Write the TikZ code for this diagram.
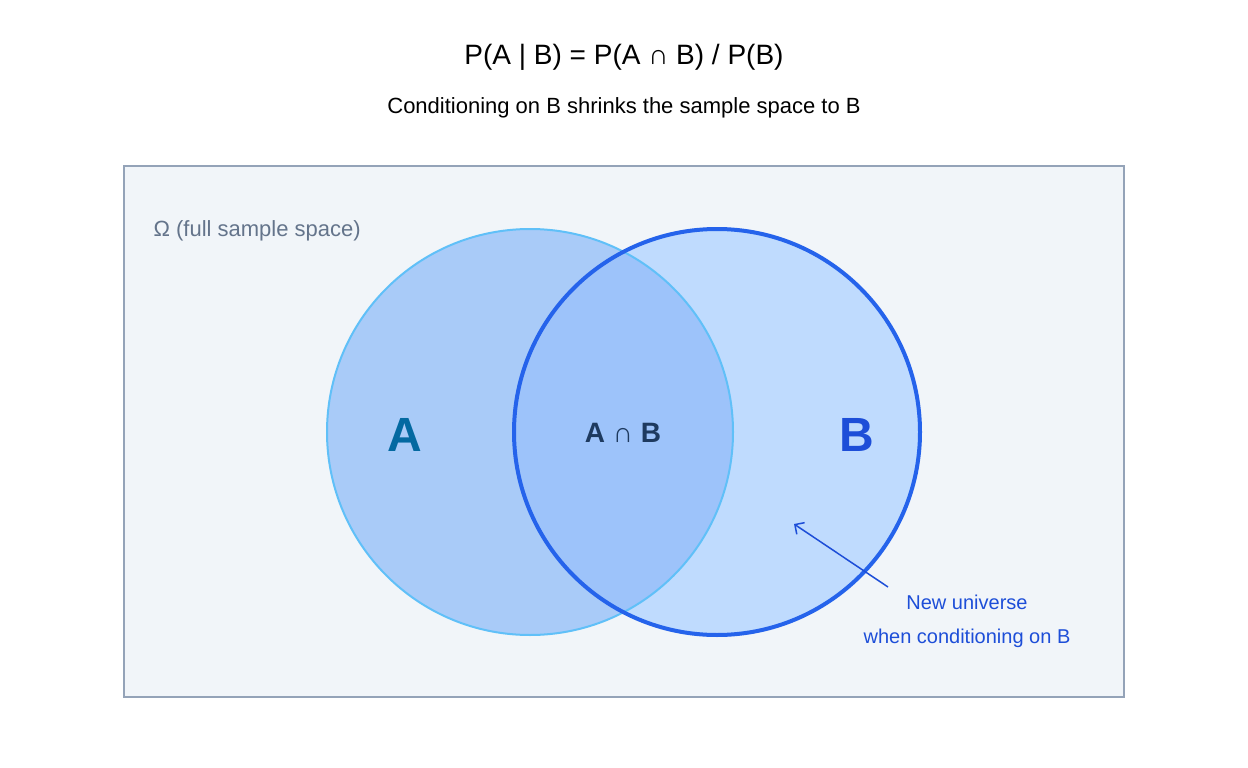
\documentclass[tikz,border=0pt]{standalone}
\usepackage{fontspec}
\setmainfont{Liberation Sans}
\usetikzlibrary{arrows.meta}
\definecolor{frameline}{HTML}{94A3B8}
\definecolor{framefill}{HTML}{F1F5F9}
\definecolor{omegagray}{HTML}{64748B}
\definecolor{afill}{HTML}{A9CBF8}
\definecolor{bfill}{HTML}{BFDBFE}
\definecolor{abfill}{HTML}{9DC3FA}
\definecolor{aline}{HTML}{60C0F8}
\definecolor{bline}{HTML}{2563EB}
\definecolor{atext}{HTML}{0369A1}
\definecolor{btext}{HTML}{1D4ED8}
\definecolor{abtext}{HTML}{1E3A5F}
\tikzset{
  setlabel/.style={font=\fontsize{48}{52}\selectfont\bfseries},
  note/.style={font=\fontsize{20}{34}\selectfont, text=btext, align=center}
}
\begin{document}
\begin{tikzpicture}[x=1pt,y=-1pt]
\useasboundingbox (0,0) rectangle (1248,768);

%titles
\node (title) at (624,57) {\fontsize{28}{32}\selectfont P(A | B) = P(A ∩ B) / P(B)};
\node (sub) at (624,108) {\fontsize{22}{26}\selectfont Conditioning on B shrinks the sample space to B};

%sample space
\draw[frameline, fill=framefill, line width=2] (124,166) rectangle (1124,697);
\node[anchor=west, text=omegagray] (omega) at (150,231) {\fontsize{22}{26}\selectfont Ω (full sample space)};

%circles
\fill[bfill] (717,432) circle (203);
\fill[afill] (530,432) circle (203);
\begin{scope}
\clip (717,432) circle (203);
\fill[abfill] (530,432) circle (203);
\end{scope}
\draw[aline, line width=2] (530,432) circle (203);
\draw[bline, line width=4] (717,432) circle (203);

%labels
\node[setlabel, text=atext] (A) at (405,435) {A};
\node[setlabel, text=btext] (B) at (857,435) {B};
\node[font=\fontsize{28}{32}\selectfont\bfseries, text=abtext] (AB) at (623,433) {A ∩ B};

%new universe
\node[note] (universe) at (967,621) {New universe\\when conditioning on B};
\coordinate (tip) at (794,524);
\draw[btext, line width=1.5, -{Straight Barb[length=7pt]}] (888,587) -- (tip);
\end{tikzpicture}
\end{document}
